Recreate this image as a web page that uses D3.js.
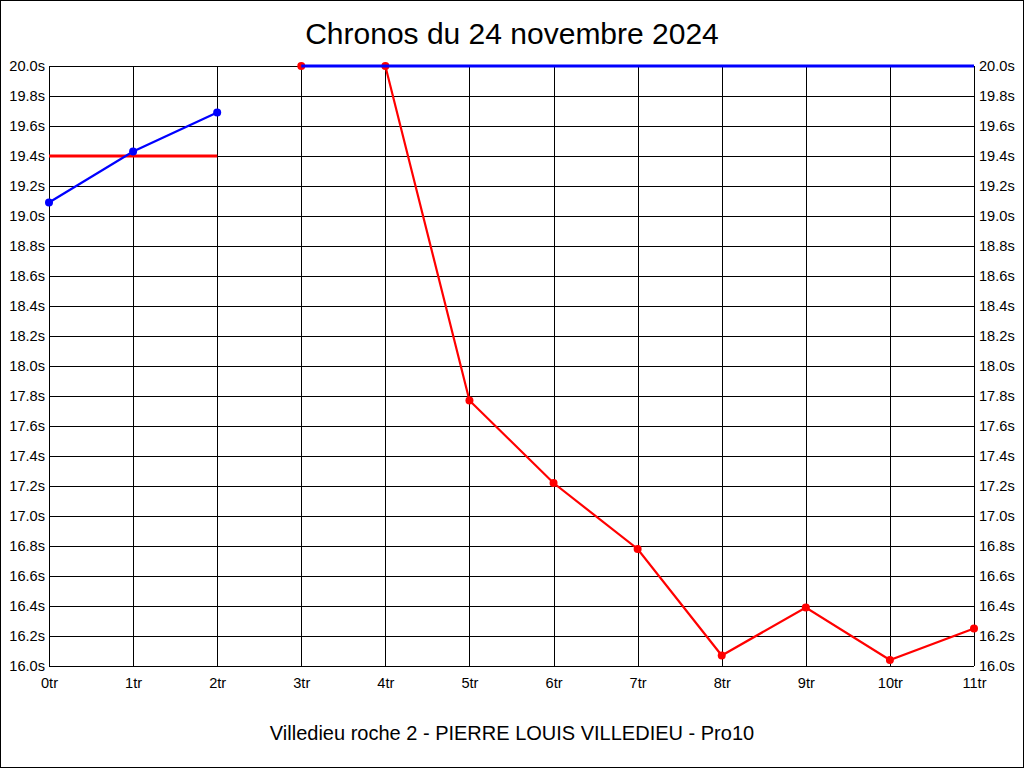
<!DOCTYPE html>
<html><head><meta charset="utf-8">
<script src="https://cdn.jsdelivr.net/npm/d3@7"></script>
<style>html,body{margin:0;padding:0;background:#fff;}svg{display:block;}</style>
</head><body>
<script>
const title = "Chronos du 24 novembre 2024";
const subtitle = "Villedieu roche 2 - PIERRE LOUIS VILLEDIEU - Pro10";
const laps = [0,1,2,3,4,5,6,7,8,9,10,11];
const xTickLabels = laps.map(d => d + "tr");
const yTicks = d3.range(0, 21).map(i => +(16 + i * 0.2).toFixed(1));
const blueLaps = [0,1,2];
const blueTimes = [19.09, 19.43, 19.69];
const redLaps = [3,4,5,6,7,8,9,10,11];
const redTimes = [20.0, 20.0, 17.77, 17.22, 16.78, 16.07, 16.39, 16.04, 16.25];
const redRefLaps = [0,2];
const redRefTimes = [19.4, 19.4];
const blueRefLaps = [3,11];
const blueRefTimes = [20.0, 20.0];

const W = 1024, H = 768;
const m = {left:49, right:50, top:66, bottom:102};
const svg = d3.select("body").append("svg").attr("width", W).attr("height", H);
svg.append("rect").attr("x",0.5).attr("y",0.5).attr("width",W-1).attr("height",H-1)
  .attr("fill","#fff").attr("stroke","#000");

const x = d3.scaleLinear().domain([0,11]).range([m.left, W - m.right]);
const y = d3.scaleLinear().domain([16,20]).range([H - m.bottom, m.top]);
const font = "'Liberation Sans', Arial, sans-serif";

// grid
const g = svg.append("g");
g.selectAll(".hg").data(yTicks).join("line")
  .attr("x1", m.left).attr("x2", W - m.right)
  .attr("y1", d => Math.round(y(d)) + 0.5).attr("y2", d => Math.round(y(d)) + 0.5)
  .attr("stroke", "#000").attr("stroke-width", 1).attr("shape-rendering","crispEdges");
g.selectAll(".vg").data(laps).join("line")
  .attr("y1", m.top).attr("y2", H - m.bottom)
  .attr("x1", d => Math.round(x(d)) + 0.5).attr("x2", d => Math.round(x(d)) + 0.5)
  .attr("stroke", "#000").attr("stroke-width", 1).attr("shape-rendering","crispEdges");

// axes labels
const fmt = d => d.toFixed(1) + "s";
const leftAxis = d3.axisLeft(y).tickValues(yTicks).tickFormat(fmt).tickSize(0).tickPadding(4);
const rightAxis = d3.axisRight(y).tickValues(yTicks).tickFormat(fmt).tickSize(0).tickPadding(5);
const bottomAxis = d3.axisBottom(x).tickValues(laps).tickFormat((d,i) => xTickLabels[i]).tickSize(0).tickPadding(12);
[[leftAxis, `translate(${m.left},0)`],[rightAxis, `translate(${W - m.right},0)`],[bottomAxis, `translate(0,${H - m.bottom})`]]
.forEach(([ax, tr]) => {
  const a = svg.append("g").attr("transform", tr).call(ax);
  a.select(".domain").remove();
  a.selectAll("text").attr("font-family", font).attr("font-size", 14.6).attr("fill", "#000");
});

const line = d3.line().x(d => x(d[0])).y(d => y(d[1]));
const zip = (a,b) => a.map((v,i) => [v, b[i]]);

// red ref line
svg.append("path").datum(zip(redRefLaps, redRefTimes)).attr("d", line)
  .attr("fill","none").attr("stroke","#f00").attr("stroke-width",3);
// blue series
svg.append("path").datum(zip(blueLaps, blueTimes)).attr("d", line)
  .attr("fill","none").attr("stroke","#00f").attr("stroke-width",2.2);
svg.selectAll(".bp").data(zip(blueLaps, blueTimes)).join("circle")
  .attr("cx", d => x(d[0])).attr("cy", d => y(d[1])).attr("r", 4).attr("fill","#00f");
// red series
svg.append("path").datum(zip(redLaps, redTimes)).attr("d", line)
  .attr("fill","none").attr("stroke","#f00").attr("stroke-width",2.2);
svg.selectAll(".rp").data(zip(redLaps, redTimes)).join("circle")
  .attr("cx", d => x(d[0])).attr("cy", d => y(d[1])).attr("r", 4).attr("fill","#f00");
// blue ref line
svg.append("path").datum(zip(blueRefLaps, blueRefTimes)).attr("d", line)
  .attr("fill","none").attr("stroke","#00f").attr("stroke-width",3);

svg.append("text").attr("x", 512).attr("y", 44).attr("text-anchor","middle")
  .attr("font-family", font).attr("font-size", 30).attr("fill","#000").text(title);
svg.append("text").attr("x", 512).attr("y", 740).attr("text-anchor","middle")
  .attr("font-family", font).attr("font-size", 20).attr("fill","#000").text(subtitle);
</script>
</body></html>
